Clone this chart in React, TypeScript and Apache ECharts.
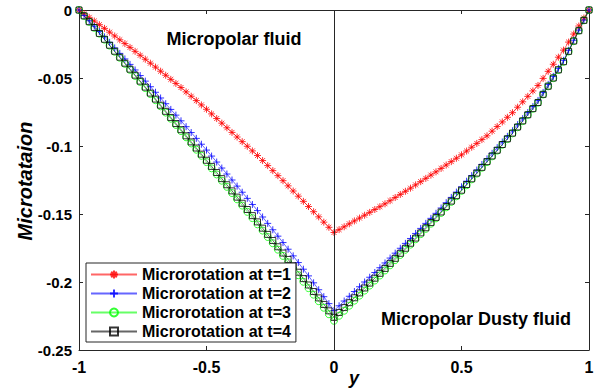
import React, { useEffect, useRef } from "react";
import * as echarts from "echarts";

const xs = [
  -1, -0.98, -0.96, -0.94, -0.92, -0.9, -0.88, -0.86, -0.84, -0.82,
  -0.8, -0.78, -0.76, -0.74, -0.72, -0.7, -0.68, -0.66, -0.64, -0.62,
  -0.6, -0.58, -0.56, -0.54, -0.52, -0.5, -0.48, -0.46, -0.44, -0.42,
  -0.4, -0.38, -0.36, -0.34, -0.32, -0.3, -0.28, -0.26, -0.24, -0.22,
  -0.2, -0.18, -0.16, -0.14, -0.12, -0.1, -0.08, -0.06, -0.04, -0.02,
  0,
  0.02, 0.04, 0.06, 0.08, 0.1, 0.12, 0.14, 0.16, 0.18, 0.2,
  0.22, 0.24, 0.26, 0.28, 0.3, 0.32, 0.34, 0.36, 0.38, 0.4,
  0.42, 0.44, 0.46, 0.48, 0.5, 0.52, 0.54, 0.56, 0.58, 0.6,
  0.62, 0.64, 0.66, 0.68, 0.7, 0.72, 0.74, 0.76, 0.78, 0.8,
  0.82, 0.84, 0.86, 0.88, 0.9, 0.92, 0.94, 0.96, 0.98, 1,
];

const microT1 = [
  0, -0.0027, -0.0054, -0.0081, -0.0108, -0.0135, -0.0163, -0.0191, -0.0219, -0.0247,
  -0.0275, -0.0304, -0.0333, -0.0362, -0.0391, -0.042, -0.045, -0.048, -0.051, -0.054,
  -0.057, -0.0602, -0.0634, -0.0666, -0.0698, -0.073, -0.0764, -0.0798, -0.0832, -0.0866,
  -0.09, -0.0934, -0.0968, -0.1002, -0.1036, -0.107, -0.1107, -0.1144, -0.1181, -0.1218,
  -0.1255, -0.1293, -0.1331, -0.1369, -0.1407, -0.1445, -0.1483, -0.1521, -0.156, -0.1598,
  -0.1636,
  -0.1615, -0.1594, -0.1572, -0.1551, -0.153, -0.1509, -0.1488, -0.1467, -0.1446, -0.1425,
  -0.1402, -0.1379, -0.1356, -0.1333, -0.131, -0.1286, -0.1262, -0.1238, -0.1214, -0.119,
  -0.1165, -0.114, -0.1115, -0.109, -0.1065, -0.1037, -0.1009, -0.0981, -0.0953, -0.0925,
  -0.0891, -0.0857, -0.0823, -0.0789, -0.0755, -0.0715, -0.0675, -0.0635, -0.0595, -0.0555,
  -0.0503, -0.0451, -0.0399, -0.0347, -0.0295, -0.0236, -0.0177, -0.0118, -0.0059, 0,
];

const microT2 = [
  0, -0.004, -0.0079, -0.0119, -0.0158, -0.0198, -0.0238, -0.0279, -0.0319, -0.036,
  -0.04, -0.0441, -0.0482, -0.0523, -0.0564, -0.0605, -0.0647, -0.0689, -0.0731, -0.0773,
  -0.0815, -0.0858, -0.0901, -0.0944, -0.0987, -0.103, -0.1074, -0.1118, -0.1162, -0.1206,
  -0.125, -0.1295, -0.134, -0.1385, -0.143, -0.1475, -0.1522, -0.1569, -0.1616, -0.1663,
  -0.171, -0.1759, -0.1808, -0.1857, -0.1906, -0.1955, -0.2006, -0.2057, -0.2108, -0.2159,
  -0.221,
  -0.2175, -0.214, -0.2105, -0.207, -0.2035, -0.2, -0.1965, -0.193, -0.1895, -0.186,
  -0.1824, -0.1788, -0.1752, -0.1716, -0.168, -0.1643, -0.1606, -0.1569, -0.1532, -0.1495,
  -0.1456, -0.1417, -0.1378, -0.1339, -0.13, -0.1259, -0.1218, -0.1177, -0.1136, -0.1095,
  -0.1054, -0.1012, -0.0971, -0.0929, -0.0888, -0.0843, -0.0799, -0.0754, -0.071, -0.0665,
  -0.0606, -0.0547, -0.0488, -0.0429, -0.037, -0.0296, -0.0222, -0.0148, -0.0074, 0,
];

const microT3 = [
  0, -0.0044, -0.0087, -0.0131, -0.0174, -0.0218, -0.0262, -0.0307, -0.0351, -0.0396,
  -0.044, -0.0485, -0.0529, -0.0574, -0.0618, -0.0663, -0.0708, -0.0754, -0.0799, -0.0845,
  -0.089, -0.0936, -0.0981, -0.1027, -0.1072, -0.1118, -0.1164, -0.1209, -0.1255, -0.13,
  -0.1346, -0.1392, -0.1438, -0.1484, -0.153, -0.1576, -0.1622, -0.1669, -0.1715, -0.1762,
  -0.1808, -0.1855, -0.1903, -0.195, -0.1998, -0.2045, -0.2093, -0.2141, -0.2189, -0.2237,
  -0.2285,
  -0.2248, -0.2211, -0.2174, -0.2137, -0.21, -0.2063, -0.2026, -0.1989, -0.1952, -0.1915,
  -0.1877, -0.1839, -0.1801, -0.1763, -0.1725, -0.1686, -0.1648, -0.1609, -0.1571, -0.1532,
  -0.1492, -0.1451, -0.1411, -0.137, -0.133, -0.1288, -0.1245, -0.1203, -0.116, -0.1118,
  -0.1076, -0.1034, -0.0991, -0.0949, -0.0907, -0.0862, -0.0817, -0.0771, -0.0726, -0.0681,
  -0.0621, -0.0561, -0.0501, -0.0441, -0.0381, -0.0305, -0.0229, -0.0152, -0.0076, 0,
];

const microT4 = [
  0, -0.0043, -0.0086, -0.0129, -0.0172, -0.0215, -0.0259, -0.0303, -0.0347, -0.0391,
  -0.0435, -0.0479, -0.0523, -0.0567, -0.0611, -0.0655, -0.07, -0.0745, -0.079, -0.0835,
  -0.088, -0.0925, -0.097, -0.1015, -0.106, -0.1105, -0.115, -0.1195, -0.124, -0.1285,
  -0.133, -0.1376, -0.1421, -0.1467, -0.1512, -0.1558, -0.1604, -0.165, -0.1695, -0.1741,
  -0.1787, -0.1834, -0.1881, -0.1928, -0.1975, -0.2022, -0.207, -0.2117, -0.2165, -0.2212,
  -0.226,
  -0.2224, -0.2188, -0.2152, -0.2116, -0.208, -0.2044, -0.2008, -0.1972, -0.1936, -0.19,
  -0.1863, -0.1826, -0.1789, -0.1752, -0.1715, -0.1677, -0.1639, -0.1601, -0.1563, -0.1525,
  -0.1485, -0.1445, -0.1405, -0.1365, -0.1325, -0.1283, -0.1241, -0.1199, -0.1157, -0.1115,
  -0.1073, -0.1031, -0.0989, -0.0947, -0.0905, -0.086, -0.0815, -0.077, -0.0725, -0.068,
  -0.062, -0.056, -0.05, -0.044, -0.038, -0.0304, -0.0228, -0.0152, -0.0076, 0,
];

const seriesNames = [
  "Microrotation at t=1",
  "Microrotation at t=2",
  "Microrotation at t=3",
  "Microrotation at t=4",
];

const FONT = '"Liberation Sans", Arial, Helvetica, sans-serif';
const AXIS_COLOR = "#262626";
const ASTERISK = "path://M5,0L5,10M0,5L10,5M1.5,1.5L8.5,8.5M1.5,8.5L8.5,1.5";
const PLUS = "path://M5,0L5,10M0,5L10,5";

function fmt(v: number) {
  return String(Number(v.toFixed(2)));
}

function makeSeries(name: string, values: number[], color: string, symbol: string, size: number, extra: any = {}) {
  return {
    type: "line",
    name,
    data: xs.map((x, i) => [x, values[i]]),
    xAxisIndex: 0,
    yAxisIndex: 0,
    symbol,
    symbolSize: size,
    showSymbol: true,
    showAllSymbol: true,
    lineStyle: { color, width: 1, opacity: 0.6 },
    itemStyle: { color: "rgba(0,0,0,0)", borderColor: color, borderWidth: 1, opacity: 0.8 },
    emphasis: { disabled: true },
    animation: false,
    ...extra,
  };
}

export default function App() {
  const ref = useRef<HTMLDivElement>(null);
  useEffect(() => {
    if (!ref.current) return;
    const chart = echarts.init(ref.current, undefined, { renderer: "svg" });
    const xBase = {
      type: "value",
      min: -1,
      max: 1,
      interval: 0.5,
      splitLine: { show: false },
      axisLine: { show: true, onZero: false, lineStyle: { color: AXIS_COLOR, width: 1 } },
      axisTick: { show: true, inside: true, length: 4, lineStyle: { color: AXIS_COLOR } },
    };
    const yBase = {
      type: "value",
      min: -0.25,
      max: 0,
      interval: 0.05,
      splitLine: { show: false },
      axisLine: { show: true, onZero: false, lineStyle: { color: AXIS_COLOR, width: 1 } },
      axisTick: { show: true, inside: true, length: 4, lineStyle: { color: AXIS_COLOR } },
    };
    chart.setOption({
      animation: false,
      backgroundColor: "#fff",
      grid: { left: 79, top: 10, width: 510, height: 340, containLabel: false },
      xAxis: [
        {
          ...xBase,
          position: "bottom",
          axisLabel: { fontSize: 16, fontWeight: "bold", color: "#000", fontFamily: FONT, margin: 9, formatter: fmt },
        },
        { ...xBase, position: "top", axisLabel: { show: false } },
      ],
      yAxis: [
        {
          ...yBase,
          position: "left",
          axisLabel: { fontSize: 15, fontWeight: "bold", color: "#000", fontFamily: FONT, margin: 7, formatter: fmt },
        },
        { ...yBase, position: "right", axisLabel: { show: false } },
      ],
      legend: {
        orient: "vertical",
        left: 86,
        top: 263,
        padding: [3, 5, 2, 4],
        itemWidth: 46,
        itemHeight: 10,
        itemGap: 2,
        backgroundColor: "#fff",
        borderColor: AXIS_COLOR,
        borderWidth: 1,
        borderRadius: 0,
        textStyle: { fontFamily: FONT, fontWeight: "bold", fontSize: 16, color: "#000", lineHeight: 17 },
        data: seriesNames,
      },
      series: [
        makeSeries(seriesNames[0], microT1, "#ff0000", ASTERISK, 7, {
          markLine: {
            silent: true,
            symbol: ["none", "none"],
            label: { show: false },
            lineStyle: { color: AXIS_COLOR, width: 1, type: "solid", opacity: 1 },
            data: [{ xAxis: 0 }],
          },
        }),
        makeSeries(seriesNames[1], microT2, "#0000ff", PLUS, 7),
        makeSeries(seriesNames[2], microT3, "#00ff00", "circle", 7),
        makeSeries(seriesNames[3], microT4, "#000000", "rect", 6),
      ],
      graphic: [
        {
          type: "text",
          x: 234,
          y: 39,
          style: { text: "Micropolar fluid", fill: "#000", font: `bold 18px ${FONT}`, align: "center", verticalAlign: "middle" },
        },
        {
          type: "text",
          x: 476,
          y: 319,
          style: { text: "Micropolar Dusty fluid", fill: "#000", font: `bold 18px ${FONT}`, align: "center", verticalAlign: "middle" },
        },
        {
          type: "text",
          x: 354,
          y: 378,
          style: { text: "y", fill: "#000", font: `italic bold 18px ${FONT}`, align: "center", verticalAlign: "middle" },
        },
        {
          type: "text",
          x: 25,
          y: 181,
          rotation: Math.PI / 2,
          style: { text: "Microtataion", fill: "#000", font: `italic bold 20px ${FONT}`, align: "center", verticalAlign: "middle" },
        },
      ],
    });
    return () => chart.dispose();
  }, []);
  return (
    <div
      ref={ref}
      style={{ position: "absolute", left: 0, top: 0, width: 599, height: 389, background: "#fff" }}
    />
  );
}
